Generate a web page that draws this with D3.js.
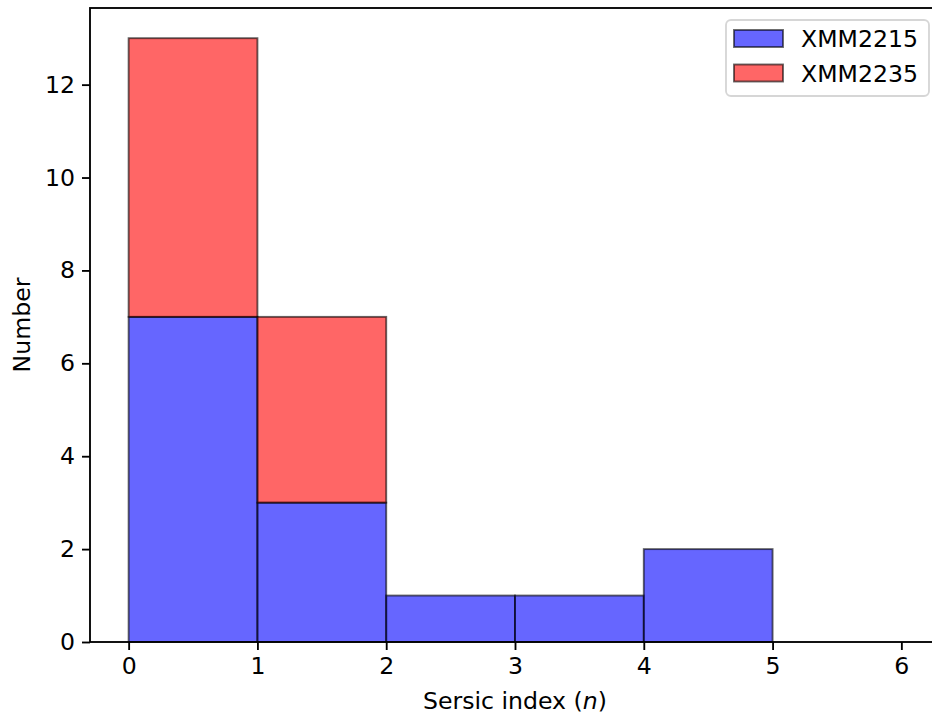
<!DOCTYPE html>
<html>
<head>
<meta charset="utf-8">
<script src="https://cdn.jsdelivr.net/npm/d3@7"></script>
<style>
  body { margin: 0; background: #fff; }
  svg { display: block; font-family: "DejaVu Sans", sans-serif; }
</style>
</head>
<body>
<div id="chart"></div>
<script>
// Data
const binEdges = [0, 1, 2, 3, 4, 5, 6]
const seriesNames = ['XMM2215', 'XMM2235']
const xmm2215 = [7, 3, 1, 1, 2, 0]
const xmm2235 = [6, 4, 0, 0, 0, 0]
const xTicks = [0, 1, 2, 3, 4, 5, 6]
const yTicks = [0, 2, 4, 6, 8, 10, 12]
const colors = ['blue', 'red']

// Dimensions
let dimensions = {
  width: 932,
  height: 720,
  left: 90,
  top: 8,
  right: 940,
  bottom: 642
}

const svg = d3.select('#chart')
  .append('svg')
  .attr('width', dimensions.width)
  .attr('height', dimensions.height)

const fontSize = 23.6

// scales
const xScale = d3.scaleLinear()
  .domain([-0.3, 6.3])
  .range([dimensions.left, dimensions.right])

const yScale = d3.scaleLinear()
  .domain([0, 13.65])
  .range([dimensions.bottom, dimensions.top])

// stacked bins
const rows = binEdges.slice(0, -1).map((x0, i) => ({
  x0: x0,
  x1: binEdges[i + 1],
  XMM2215: xmm2215[i],
  XMM2235: xmm2235[i]
}))

const stacked = d3.stack().keys(seriesNames)(rows)

const barGroup = svg.append('g')

stacked.forEach((layer, li) => {
  barGroup.append('g')
    .selectAll('rect')
    .data(layer)
    .join('rect')
    .attr('x', d => xScale(d.data.x0))
    .attr('width', d => xScale(d.data.x1) - xScale(d.data.x0))
    .attr('y', d => yScale(d[1]))
    .attr('height', d => yScale(d[0]) - yScale(d[1]))
    .attr('fill', colors[li])
    .attr('fill-opacity', 0.6)
    .attr('stroke', '#000')
    .attr('stroke-opacity', 0.6)
    .attr('stroke-width', 1.9)
})

// axes
const xAxis = d3.axisBottom(xScale)
  .tickValues(xTicks)
  .tickSize(8)
  .tickPadding(7)
  .tickFormat(d3.format('d'))

const yAxis = d3.axisLeft(yScale)
  .tickValues(yTicks)
  .tickSize(8)
  .tickPadding(7)
  .tickFormat(d3.format('d'))

const xAxisGroup = svg.append('g')
  .attr('transform', `translate(0, ${dimensions.bottom})`)
  .call(xAxis)

const yAxisGroup = svg.append('g')
  .attr('transform', `translate(${dimensions.left}, 0)`)
  .call(yAxis)

;[xAxisGroup, yAxisGroup].forEach(g => {
  g.select('.domain').remove()
  g.selectAll('.tick line').attr('stroke', '#000').attr('stroke-width', 1.85)
  g.selectAll('.tick text')
    .attr('fill', '#000')
    .style('font-size', fontSize + 'px')
    .style('font-family', '"DejaVu Sans", sans-serif')
})

// frame
svg.append('rect')
  .attr('x', dimensions.left)
  .attr('y', dimensions.top)
  .attr('width', dimensions.right - dimensions.left)
  .attr('height', dimensions.bottom - dimensions.top)
  .attr('fill', 'none')
  .attr('stroke', '#000')
  .attr('stroke-width', 1.85)

// labels
const xLabel = svg.append('text')
  .attr('x', (dimensions.left + dimensions.right) / 2)
  .attr('y', 709)
  .attr('text-anchor', 'middle')
  .style('font-size', fontSize + 'px')
xLabel.append('tspan').text('Sersic index (')
xLabel.append('tspan').attr('font-style', 'italic').text('n')
xLabel.append('tspan').text(')')

svg.append('text')
  .attr('transform', `translate(30, ${(dimensions.top + dimensions.bottom) / 2}) rotate(-90)`)
  .attr('text-anchor', 'middle')
  .style('font-size', fontSize + 'px')
  .text('Number')

// legend
const legend = svg.append('g')
  .attr('transform', 'translate(726, 20)')

legend.append('rect')
  .attr('width', 203)
  .attr('height', 76)
  .attr('rx', 5)
  .attr('fill', '#fff')
  .attr('fill-opacity', 0.8)
  .attr('stroke', '#d6d6d6')
  .attr('stroke-width', 1.85)

const items = legend.selectAll('g.item')
  .data(seriesNames)
  .join('g')
  .classed('item', true)
  .attr('transform', (d, i) => `translate(0, ${i * 34.5})`)

items.append('rect')
  .attr('x', 8)
  .attr('y', 10)
  .attr('width', 49)
  .attr('height', 17)
  .attr('fill', (d, i) => colors[i])
  .attr('fill-opacity', 0.6)
  .attr('stroke', '#000')
  .attr('stroke-opacity', 0.6)
  .attr('stroke-width', 1.9)

items.append('text')
  .attr('x', 75)
  .attr('y', 27)
  .style('font-size', fontSize + 'px')
  .text(d => d)
</script>
</body>
</html>
